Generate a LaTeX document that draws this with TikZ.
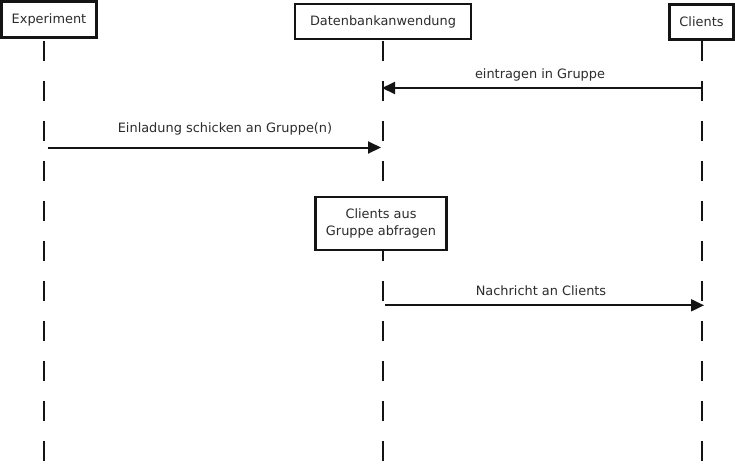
\documentclass[tikz,border=0pt]{standalone}
\usepackage{fontspec}
\setmainfont{DejaVu Sans}
\usetikzlibrary{arrows.meta}
\definecolor{ink}{HTML}{141414}
\tikzset{
  head/.style={draw=ink, line width=2.2pt, fill=white, inner sep=0pt, align=center, font=\fontsize{12.9}{17}\selectfont, text=ink!90},
  life/.style={draw=ink, line width=2pt, dash pattern=on 20pt off 20pt},
  msg/.style={draw=ink, line width=2pt, -{Triangle[length=13pt,width=12pt]}},
  lbl/.style={font=\fontsize{12.9}{15}\selectfont, text=ink!90, inner sep=0pt}
}
\begin{document}
\begin{tikzpicture}[x=1pt,y=-1pt]
\useasboundingbox (0,0) rectangle (735,472);
\fill[white] (0,0) rectangle (735,472);
% lifelines
\coordinate (eT) at (43.5,41); \coordinate (eB) at (43.5,461);
\coordinate (dT) at (383,41); \coordinate (dB) at (383,461);
\coordinate (cT) at (702,41); \coordinate (cB) at (702,461);
\draw[life] (eT) -- (eB);
\draw[life] (dT) -- (dB);
\draw[life] (cT) -- (cB);
% heads
\node[head, minimum width=95pt, minimum height=36pt] (exp) at (49,19.5) {Experiment};
\node[head, minimum width=176pt, minimum height=35pt] (db) at (383,21.5) {Datenbankanwendung};
\node[head, minimum width=64pt, minimum height=35pt] (cl) at (701.5,22) {Clients};
\node[head, minimum width=131pt, minimum height=53pt] (qry) at (381,223.5) {Clients aus\\Gruppe abfragen};
% messages
\coordinate (m1s) at (702,88); \coordinate (m1e) at (382,88);
\draw[msg] (m1s) -- (m1e);
\node[lbl] (l1) at (540,75) {eintragen in Gruppe};
\coordinate (m2s) at (47.5,147.5); \coordinate (m2e) at (381,147.5);
\draw[msg] (m2s) -- (m2e);
\node[lbl] (l2) at (225,129) {Einladung schicken an Gruppe(n)};
\coordinate (m3s) at (385,305.3); \coordinate (m3e) at (704,305.3);
\draw[msg] (m3s) -- (m3e);
\node[lbl] (l3) at (541,291) {Nachricht an Clients};
\end{tikzpicture}
\end{document}
